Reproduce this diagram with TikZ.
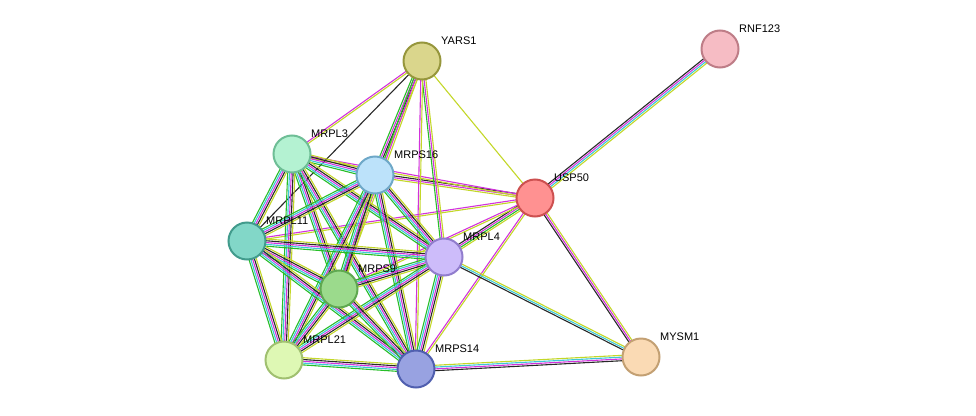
\documentclass[tikz,border=0pt]{standalone}
\usepackage{fontspec}
\setmainfont{Liberation Sans}
\usetikzlibrary{calc,backgrounds}
\definecolor{cgreen}{RGB}{40,190,40}
\definecolor{ccyan}{RGB}{60,200,215}
\definecolor{cmag}{RGB}{210,50,220}
\definecolor{cblk}{RGB}{40,40,40}
\definecolor{cyel}{RGB}{195,215,40}
\tikzset{
  prot/.style={circle, minimum size=37pt, inner sep=0pt, line width=2pt},
  lbl/.style={font=\fontsize{11}{13}\selectfont, anchor=south west, inner sep=1pt}
}
% one edge: from, to, number of strands, colour list
\newcommand\edge[4]{\foreach \c [count=\i] in {#4}{
  \draw[\c, line width=1.1pt] ($(#1)!{(\i-(#3+1)/2)*1.8pt}!90:(#2)$) -- ($(#2)!{(\i-(#3+1)/2)*1.8pt}!-90:(#1)$);}}
\begin{document}
\begin{tikzpicture}[x=1pt,y=-1pt]
\useasboundingbox (0,0) rectangle (976,415);

% proteins
\node[prot, fill={rgb,255:red,218;green,214;blue,140}, draw={rgb,255:red,150;green,150;blue,60}] (yars) at (422,61) {};
\node[prot, fill={rgb,255:red,246;green,188;blue,196}, draw={rgb,255:red,190;green,125;blue,135}] (rnf) at (720,49) {};
\node[prot, fill={rgb,255:red,180;green,242;blue,210}, draw={rgb,255:red,110;green,190;blue,150}] (mrpl3) at (292,154) {};
\node[prot, fill={rgb,255:red,188;green,226;blue,250}, draw={rgb,255:red,110;green,168;blue,200}] (mrps16) at (375,175) {};
\node[prot, fill={rgb,255:red,255;green,145;blue,145}, draw={rgb,255:red,205;green,80;blue,80}] (usp) at (535,198) {};
\node[prot, fill={rgb,255:red,130;green,215;blue,200}, draw={rgb,255:red,65;green,155;blue,140}] (mrpl11) at (247,241) {};
\node[prot, fill={rgb,255:red,205;green,188;blue,250}, draw={rgb,255:red,145;green,125;blue,205}] (mrpl4) at (444,257) {};
\node[prot, fill={rgb,255:red,155;green,218;blue,140}, draw={rgb,255:red,95;green,168;blue,80}] (mrps9) at (339,289) {};
\node[prot, fill={rgb,255:red,222;green,248;blue,180}, draw={rgb,255:red,160;green,192;blue,112}] (mrpl21) at (284,360) {};
\node[prot, fill={rgb,255:red,152;green,162;blue,225}, draw={rgb,255:red,80;green,95;blue,175}] (mrps14) at (416,369) {};
\node[prot, fill={rgb,255:red,250;green,218;blue,180}, draw={rgb,255:red,195;green,160;blue,115}] (mysm) at (641,357) {};

% labels
\node[lbl] at ([shift={(18,-15)}]yars) {YARS1};
\node[lbl] at ([shift={(18,-15)}]rnf) {RNF123};
\node[lbl] at ([shift={(18,-15)}]mrpl3) {MRPL3};
\node[lbl] at ([shift={(18,-15)}]mrps16) {MRPS16};
\node[lbl] at ([shift={(18,-15)}]usp) {USP50};
\node[lbl] at ([shift={(18,-15)}]mrpl11) {MRPL11};
\node[lbl] at ([shift={(18,-15)}]mrpl4) {MRPL4};
\node[lbl] at ([shift={(18,-15)}]mrps9) {MRPS9};
\node[lbl] at ([shift={(18,-15)}]mrpl21) {MRPL21};
\node[lbl] at ([shift={(18,-15)}]mrps14) {MRPS14};
\node[lbl] at ([shift={(18,-15)}]mysm) {MYSM1};

\begin{scope}[on background layer]
% USP50 partners
\edge{yars}{usp}{1}{cyel}
\edge{rnf}{usp}{4}{cblk,cmag,ccyan,cyel}
\edge{usp}{mysm}{3}{cblk,cmag,cyel}
\edge{usp}{mrps14}{2}{cmag,cyel}
\edge{usp}{mrpl4}{4}{cblk,cmag,cgreen,cyel}
\edge{usp}{mrps16}{3}{cblk,cmag,cyel}
\edge{usp}{mrpl3}{2}{cmag,cyel}
\edge{usp}{mrpl11}{2}{cmag,cyel}
\edge{usp}{mrps9}{2}{cmag,cyel}
\edge{mrpl4}{mysm}{3}{cblk,ccyan,cyel}
\edge{mrps14}{mysm}{4}{cblk,cmag,ccyan,cyel}
% YARS1 partners
\edge{yars}{mrpl3}{2}{cmag,cyel}
\edge{yars}{mrps16}{4}{cgreen,cmag,cblk,cyel}
\edge{yars}{mrpl11}{1}{cblk}
\edge{yars}{mrpl4}{3}{cgreen,cmag,cyel}
\edge{yars}{mrps9}{3}{cgreen,cmag,cyel}
\edge{yars}{mrps14}{2}{cmag,cyel}
% ribosome
\foreach \a/\b in {mrpl3/mrps16,mrpl3/mrpl11,mrpl3/mrpl4,mrpl3/mrps9,mrpl3/mrpl21,mrpl3/mrps14,
  mrps16/mrpl11,mrps16/mrpl4,mrps16/mrps9,mrps16/mrpl21,mrps16/mrps14,
  mrpl11/mrpl4,mrpl11/mrps9,mrpl11/mrpl21,mrpl11/mrps14,
  mrpl4/mrps9,mrpl4/mrpl21,mrpl4/mrps14,
  mrps9/mrpl21,mrps9/mrps14,mrpl21/mrps14}
  {\edge{\a}{\b}{5}{cgreen,ccyan,cmag,cblk,cyel}}
\end{scope}
\end{tikzpicture}
\end{document}
